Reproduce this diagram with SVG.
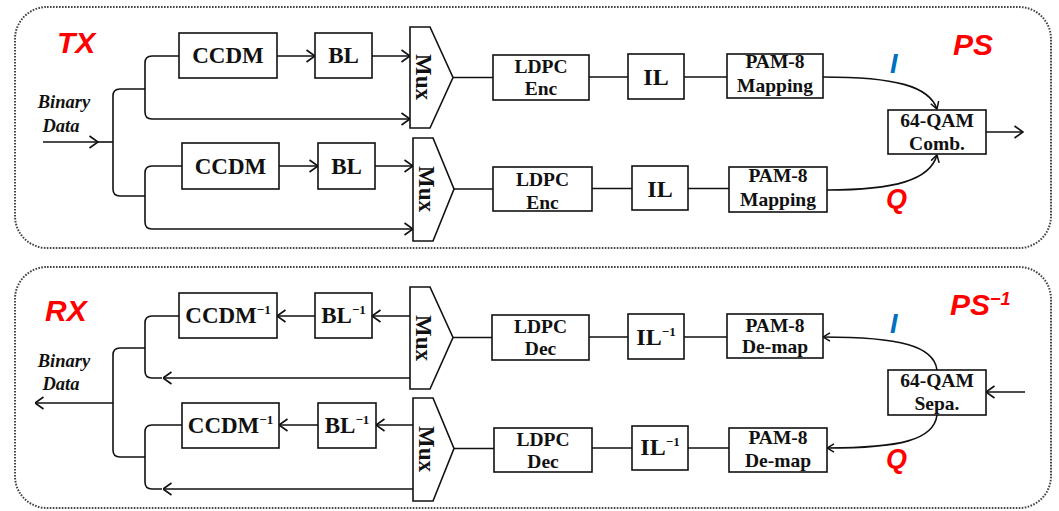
<svg xmlns="http://www.w3.org/2000/svg" width="1059" height="511" viewBox="0 0 1059 511">
  <defs>
    <style>
      .panel { fill: none; stroke: #444; stroke-width: 2; stroke-dasharray: 1.6 1.4; }
      .box { fill: #fff; stroke: #111; stroke-width: 1.6; }
      .wire { fill: none; stroke: #111; stroke-width: 1.6; }
      .lbl { font-family: "Liberation Serif", "Times New Roman", serif; font-weight: bold; fill: #111; text-anchor: middle; }
      .big { font-size: 23px; }
      .mid { font-size: 19.5px; }
      .il { font-size: 24px; }
      .bd { font-family: "Liberation Serif", serif; font-weight: bold; font-style: italic; font-size: 18.5px; fill: #111; text-anchor: middle; }
      .tag { font-family: "Liberation Sans", Arial, sans-serif; font-weight: bold; font-style: italic; font-size: 30px; fill: #ff0000; }
      .iq { font-family: "Liberation Sans", Arial, sans-serif; font-weight: bold; font-style: italic; font-size: 27px; }
    </style>
    <marker id="arr" viewBox="0 0 10 14" refX="9.5" refY="7" markerWidth="10" markerHeight="14" markerUnits="userSpaceOnUse" orient="auto">
      <path d="M1,1 L9.5,7 L1,13" fill="none" stroke="#111" stroke-width="1.6"/>
    </marker>
    <marker id="arrs" viewBox="0 0 8 10" refX="7.5" refY="5" markerWidth="8" markerHeight="10" markerUnits="userSpaceOnUse" orient="auto">
      <path d="M0.5,0.8 L7.5,5 L0.5,9.2" fill="none" stroke="#111" stroke-width="1.5"/>
    </marker>
  </defs>

  <rect width="1059" height="511" fill="#fff"/>

  <!-- panel frames -->
  <rect class="panel" x="15" y="7" width="1036" height="241" rx="32"/>
  <rect class="panel" x="15" y="267" width="1036" height="241" rx="32"/>

  <!-- connectors -->
  <g id="connectors">
    <!-- transmitter -->
    <path class="wire" d="M43,142 H98" marker-end="url(#arr)"/>
    <path class="wire" d="M98,142 H113"/>
    <path class="wire" d="M145,89 H120 Q113,89 113,96 V189 Q113,196 120,196 H145"/>
    <path class="wire" d="M179,56 H152 Q145,56 145,63 V112 Q145,119 152,119 H410" marker-end="url(#arr)"/>
    <path class="wire" d="M182,166 H152 Q145,166 145,173 V222 Q145,229 152,229 H413" marker-end="url(#arr)"/>
    <path class="wire" d="M277,56 H315" marker-end="url(#arr)"/>
    <path class="wire" d="M372,56 H410" marker-end="url(#arr)"/>
    <path class="wire" d="M279,166 H318" marker-end="url(#arr)"/>
    <path class="wire" d="M375,166 H413" marker-end="url(#arr)"/>
    <path class="wire" d="M453,77.5 H493 M589,77 H628 M684,77 H727"/>
    <path class="wire" d="M454,189 H493 M592,188.5 H632 M688,188.5 H729"/>
    <path class="wire" d="M823,77 C895,77 929,86 937,109" marker-end="url(#arrs)"/>
    <path class="wire" d="M827,190 C895,190 930,180 937,155" marker-end="url(#arrs)"/>
    <path class="wire" d="M986,132 H1023" marker-end="url(#arr)"/>

    <!-- receiver -->
    <path class="wire" d="M113,403 H35" marker-end="url(#arr)"/>
    <path class="wire" d="M145,348 H120 Q113,348 113,355 V450 Q113,457 120,457 H145"/>
    <path class="wire" d="M179,316 H152 Q145,316 145,323 V371 Q145,378 152,378 H162"/>
    <path class="wire" d="M410,378 H163" marker-end="url(#arr)"/>
    <path class="wire" d="M182,425 H152 Q145,425 145,432 V482 Q145,489 152,489 H162"/>
    <path class="wire" d="M413,489 H163" marker-end="url(#arr)"/>
    <path class="wire" d="M315,316 H277" marker-end="url(#arr)"/>
    <path class="wire" d="M410,316 H372" marker-end="url(#arr)"/>
    <path class="wire" d="M318,425 H279" marker-end="url(#arr)"/>
    <path class="wire" d="M413,425 H376" marker-end="url(#arr)"/>
    <path class="wire" d="M453,337.5 H492 M589,337 H628 M684,337 H727"/>
    <path class="wire" d="M454,448.5 H494 M592,448 H632 M688,448 H729"/>
    <path class="wire" d="M937,370 C934,346 900,337 823,337" marker-end="url(#arrs)"/>
    <path class="wire" d="M937,415 C934,440 900,448 827,448" marker-end="url(#arrs)"/>
    <path class="wire" d="M1025,392 H986" marker-end="url(#arr)"/>
  </g>

  <!-- section tags -->
  <text class="tag" x="57" y="53">TX</text>
  <text class="tag" x="953" y="55">PS</text>
  <text class="tag" x="45" y="321">RX</text>
  <text class="tag" x="950" y="315">PS<tspan font-size="18" dy="-10">−1</tspan></text>
  <text class="iq" x="890" y="73" fill="#0070c0">I</text>
  <text class="iq" x="886" y="208" fill="#ff0000">Q</text>
  <text class="iq" x="890" y="333" fill="#0070c0">I</text>
  <text class="iq" x="886" y="468" fill="#ff0000">Q</text>

  <text class="bd" x="64" y="108">Binary</text>
  <text class="bd" x="61" y="132">Data</text>
  <text class="bd" x="64" y="367">Binary</text>
  <text class="bd" x="61" y="390">Data</text>

  <!-- transmitter blocks -->
  <g id="tx-ccdm-1"><rect class="box" x="179" y="33" width="98" height="45"/><text class="lbl big" x="228" y="63">CCDM</text></g>
  <g id="tx-bl-1"><rect class="box" x="315" y="33" width="57" height="45"/><text class="lbl big" x="343.5" y="63">BL</text></g>
  <g id="tx-mux-1"><polygon class="box" points="410,27 430,27 453,77.5 430,128 410,128"/><text class="lbl big" x="0" y="0" dominant-baseline="central" transform="translate(423,77) rotate(90)">Mux</text></g>
  <g id="tx-ldpc-1"><rect class="box" x="493" y="55" width="96" height="45"/><text class="lbl mid" x="541" y="73">LDPC</text><text class="lbl mid" x="541" y="95">Enc</text></g>
  <g id="tx-il-1"><rect class="box" x="628" y="54" width="56" height="45"/><text class="lbl il" x="656" y="85">IL</text></g>
  <g id="tx-pam-1"><rect class="box" x="727" y="54" width="96" height="44"/><text class="lbl mid" x="775" y="68">PAM-8</text><text class="lbl mid" x="775" y="92">Mapping</text></g>

  <g id="tx-ccdm-2"><rect class="box" x="182" y="143" width="97" height="46"/><text class="lbl big" x="230.5" y="174">CCDM</text></g>
  <g id="tx-bl-2"><rect class="box" x="318" y="143" width="57" height="46"/><text class="lbl big" x="346.5" y="174">BL</text></g>
  <g id="tx-mux-2"><polygon class="box" points="413,138 433,138 454,189 433,241 413,241"/><text class="lbl big" x="0" y="0" dominant-baseline="central" transform="translate(426,189) rotate(90)">Mux</text></g>
  <g id="tx-ldpc-2"><rect class="box" x="493" y="167" width="99" height="44"/><text class="lbl mid" x="542.5" y="186">LDPC</text><text class="lbl mid" x="542.5" y="209">Enc</text></g>
  <g id="tx-il-2"><rect class="box" x="632" y="166" width="56" height="44"/><text class="lbl il" x="660" y="197">IL</text></g>
  <g id="tx-pam-2"><rect class="box" x="729" y="167" width="98" height="45"/><text class="lbl mid" x="778" y="182">PAM-8</text><text class="lbl mid" x="778" y="206">Mapping</text></g>

  <g id="tx-qam"><rect class="box" x="888" y="110" width="98" height="44"/><text class="lbl mid" x="937" y="127">64-QAM</text><text class="lbl mid" x="937" y="150">Comb.</text></g>

  <!-- receiver blocks -->
  <g id="rx-ccdm-1"><rect class="box" x="179" y="293" width="98" height="45"/><text class="lbl big" x="228" y="323">CCDM<tspan font-size="13" dy="-9">−1</tspan></text></g>
  <g id="rx-bl-1"><rect class="box" x="315" y="293" width="57" height="45"/><text class="lbl big" x="343.5" y="323">BL<tspan font-size="13" dy="-9">−1</tspan></text></g>
  <g id="rx-mux-1"><polygon class="box" points="410,287 430,287 453,337.5 430,389 410,389"/><text class="lbl big" x="0" y="0" dominant-baseline="central" transform="translate(423,338) rotate(90)">Mux</text></g>
  <g id="rx-ldpc-1"><rect class="box" x="492" y="315" width="97" height="45"/><text class="lbl mid" x="540.5" y="333">LDPC</text><text class="lbl mid" x="540.5" y="355">Dec</text></g>
  <g id="rx-il-1"><rect class="box" x="628" y="314" width="56" height="45"/><text class="lbl il" x="656" y="345">IL<tspan font-size="13" dy="-9">−1</tspan></text></g>
  <g id="rx-pam-1"><rect class="box" x="727" y="314" width="96" height="44"/><text class="lbl mid" x="775" y="332">PAM-8</text><text class="lbl mid" x="775" y="353">De-map</text></g>

  <g id="rx-ccdm-2"><rect class="box" x="182" y="403" width="97" height="45"/><text class="lbl big" x="230.5" y="433">CCDM<tspan font-size="13" dy="-9">−1</tspan></text></g>
  <g id="rx-bl-2"><rect class="box" x="318" y="403" width="58" height="45"/><text class="lbl big" x="347" y="433">BL<tspan font-size="13" dy="-9">−1</tspan></text></g>
  <g id="rx-mux-2"><polygon class="box" points="413,398 433,398 454,448.5 433,501 413,501"/><text class="lbl big" x="0" y="0" dominant-baseline="central" transform="translate(426,449) rotate(90)">Mux</text></g>
  <g id="rx-ldpc-2"><rect class="box" x="494" y="428" width="98" height="44"/><text class="lbl mid" x="543" y="446">LDPC</text><text class="lbl mid" x="543" y="468">Dec</text></g>
  <g id="rx-il-2"><rect class="box" x="632" y="426" width="56" height="44"/><text class="lbl il" x="660" y="455">IL<tspan font-size="13" dy="-9">−1</tspan></text></g>
  <g id="rx-pam-2"><rect class="box" x="729" y="428" width="98" height="44"/><text class="lbl mid" x="778" y="444">PAM-8</text><text class="lbl mid" x="778" y="467">De-map</text></g>

  <g id="rx-qam"><rect class="box" x="888" y="370" width="98" height="45"/><text class="lbl mid" x="937" y="387">64-QAM</text><text class="lbl mid" x="937" y="410">Sepa.</text></g>
</svg>
